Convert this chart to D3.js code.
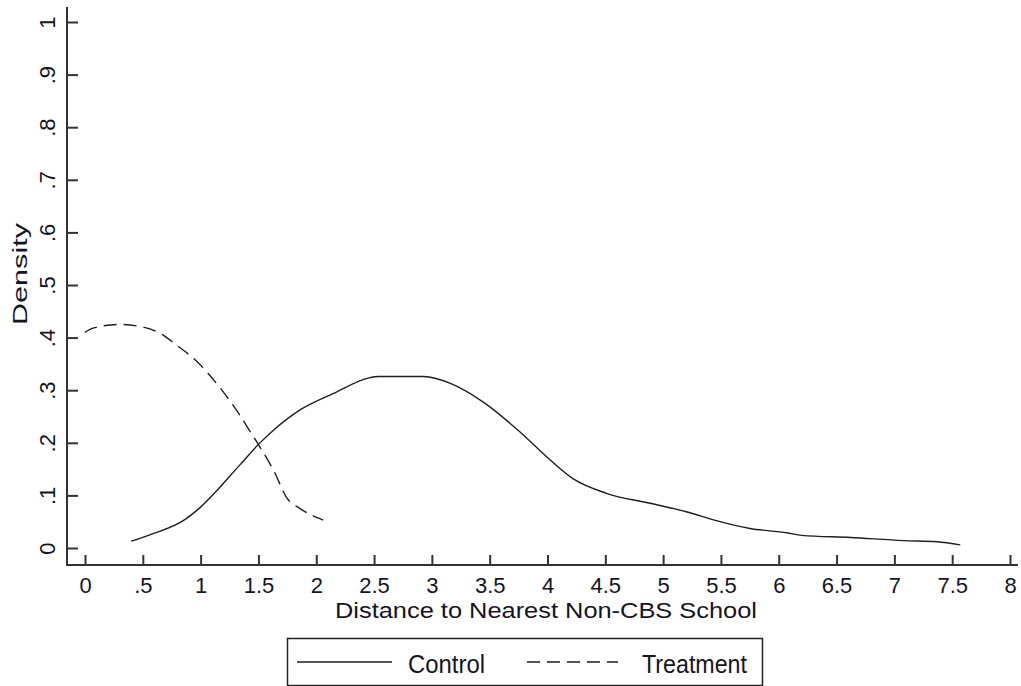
<!DOCTYPE html>
<html>
<head>
<meta charset="utf-8">
<script src="https://cdn.jsdelivr.net/npm/d3@7"></script>
<style>
  body { margin: 0; background: #fff; }
  text { font-family: Arial, "Liberation Sans", sans-serif; fill: #15151f; }
</style>
</head>
<body>
<svg id="chart"></svg>
<script>
// kernel density, distance to nearest non-CBS school
const controlDist = [0.40, 0.56, 0.87, 0.97, 1.34, 1.50, 1.63, 1.87, 2.15, 2.45, 2.54, 2.93, 3.16, 3.46, 3.76, 3.99, 4.22, 4.51, 4.89, 5.20, 5.46, 5.75, 6.07, 6.20, 6.62, 7.08, 7.37, 7.57];
const controlDens = [0.013, 0.025, 0.055, 0.072, 0.158, 0.197, 0.224, 0.264, 0.294, 0.323, 0.326, 0.326, 0.313, 0.275, 0.221, 0.174, 0.132, 0.104, 0.085, 0.069, 0.052, 0.037, 0.029, 0.024, 0.020, 0.014, 0.012, 0.006];

const treatDist = [0.00, 0.07, 0.29, 0.48, 0.65, 0.79, 0.97, 1.17, 1.31, 1.43, 1.51, 1.63, 1.75, 1.86, 2.06];
const treatDens = [0.410, 0.418, 0.425, 0.421, 0.408, 0.386, 0.354, 0.304, 0.262, 0.221, 0.193, 0.148, 0.094, 0.075, 0.053];

const xTicks = [0, 0.5, 1, 1.5, 2, 2.5, 3, 3.5, 4, 4.5, 5, 5.5, 6, 6.5, 7, 7.5, 8];
const yTicks = [0, 0.1, 0.2, 0.3, 0.4, 0.5, 0.6, 0.7, 0.8, 0.9, 1];

const xTitle = "Distance to Nearest Non-CBS School";
const yTitle = "Density";
const seriesNames = ["Control", "Treatment"];

const config = {
    width: 1021,
    height: 686,
    axisLeft: 67,
    axisRight: 1018,
    axisTop: 7,
    axisBottom: 565
};

const svg = d3.select("#chart")
    .attr("width", config.width)
    .attr("height", config.height);

const xscale = d3.scaleLinear().domain([0, 8]).range([85, 1010]);
const yscale = d3.scaleLinear().domain([0, 1]).range([548, 22]);

const fmt = d => String(d).replace(/^0\./, ".");

// axis lines
svg.append("line")
    .attr("x1", config.axisLeft).attr("x2", config.axisLeft)
    .attr("y1", config.axisTop).attr("y2", config.axisBottom + 1)
    .attr("stroke", "#333").attr("stroke-width", 2);
svg.append("line")
    .attr("x1", config.axisLeft - 1).attr("x2", config.axisRight)
    .attr("y1", config.axisBottom).attr("y2", config.axisBottom)
    .attr("stroke", "#333").attr("stroke-width", 2);

// y axis: inward ticks, rotated labels
const yaxis = d3.axisLeft(yscale)
    .tickValues(yTicks)
    .tickFormat(fmt)
    .tickSize(-11)
    .tickSizeOuter(0);

const yg = svg.append("g")
    .attr("transform", `translate(${config.axisLeft},0)`)
    .call(yaxis);
yg.select(".domain").remove();
yg.selectAll(".tick line").attr("stroke", "#333").attr("stroke-width", 2);
yg.selectAll(".tick text")
    .attr("x", null).attr("dy", null)
    .attr("transform", "translate(-12,0) rotate(-90)")
    .attr("text-anchor", "middle")
    .attr("font-size", 22)
    .attr("fill", "#15151f");

// x axis: inward ticks
const xaxis = d3.axisBottom(xscale)
    .tickValues(xTicks)
    .tickFormat(fmt)
    .tickSize(-10)
    .tickSizeOuter(0);

const xg = svg.append("g")
    .attr("transform", `translate(0,${config.axisBottom})`)
    .call(xaxis);
xg.select(".domain").remove();
xg.selectAll(".tick line").attr("stroke", "#333").attr("stroke-width", 2);
xg.selectAll(".tick text")
    .attr("y", 28).attr("dy", null)
    .attr("font-size", 22)
    .attr("fill", "#15151f");

// titles
svg.append("text")
    .attr("x", 546)
    .attr("y", 618)
    .attr("text-anchor", "middle")
    .attr("font-size", 22)
    .attr("textLength", 422)
    .attr("lengthAdjust", "spacingAndGlyphs")
    .text(xTitle);

svg.append("text")
    .attr("transform", "translate(27,274) rotate(-90)")
    .attr("text-anchor", "middle")
    .attr("font-size", 21)
    .attr("textLength", 102)
    .attr("lengthAdjust", "spacingAndGlyphs")
    .attr("fill", "#2a2a35")
    .text(yTitle);

// curves
const line = d3.line()
    .x(d => xscale(d[0]))
    .y(d => yscale(d[1]))
    .curve(d3.curveMonotoneX);

const control = d3.zip(controlDist, controlDens);
const treat = d3.zip(treatDist, treatDens);

svg.append("path")
    .datum(control)
    .attr("d", line)
    .attr("fill", "none")
    .attr("stroke", "#1e1e1e")
    .attr("stroke-width", 1.4);

svg.append("path")
    .datum(treat)
    .attr("d", line)
    .attr("fill", "none")
    .attr("stroke", "#1e1e1e")
    .attr("stroke-width", 1.4)
    .attr("stroke-dasharray", "13,7");

// legend
const legend = svg.append("g");
legend.append("rect")
    .attr("x", 287.5).attr("y", 638.5)
    .attr("width", 475).attr("height", 47)
    .attr("fill", "none")
    .attr("stroke", "#222")
    .attr("stroke-width", 1.5);

legend.append("line")
    .attr("x1", 297).attr("x2", 392)
    .attr("y1", 662).attr("y2", 662)
    .attr("stroke", "#1e1e1e").attr("stroke-width", 1.5);
legend.append("line")
    .attr("x1", 527).attr("x2", 618)
    .attr("y1", 662).attr("y2", 662)
    .attr("stroke", "#1e1e1e").attr("stroke-width", 1.5)
    .attr("stroke-dasharray", "13,7");

legend.append("text")
    .attr("x", 408).attr("y", 673)
    .attr("font-size", 26)
    .attr("textLength", 77)
    .attr("lengthAdjust", "spacingAndGlyphs")
    .text(seriesNames[0]);
legend.append("text")
    .attr("x", 642).attr("y", 673)
    .attr("font-size", 26)
    .attr("textLength", 105)
    .attr("lengthAdjust", "spacingAndGlyphs")
    .text(seriesNames[1]);
</script>
</body>
</html>
